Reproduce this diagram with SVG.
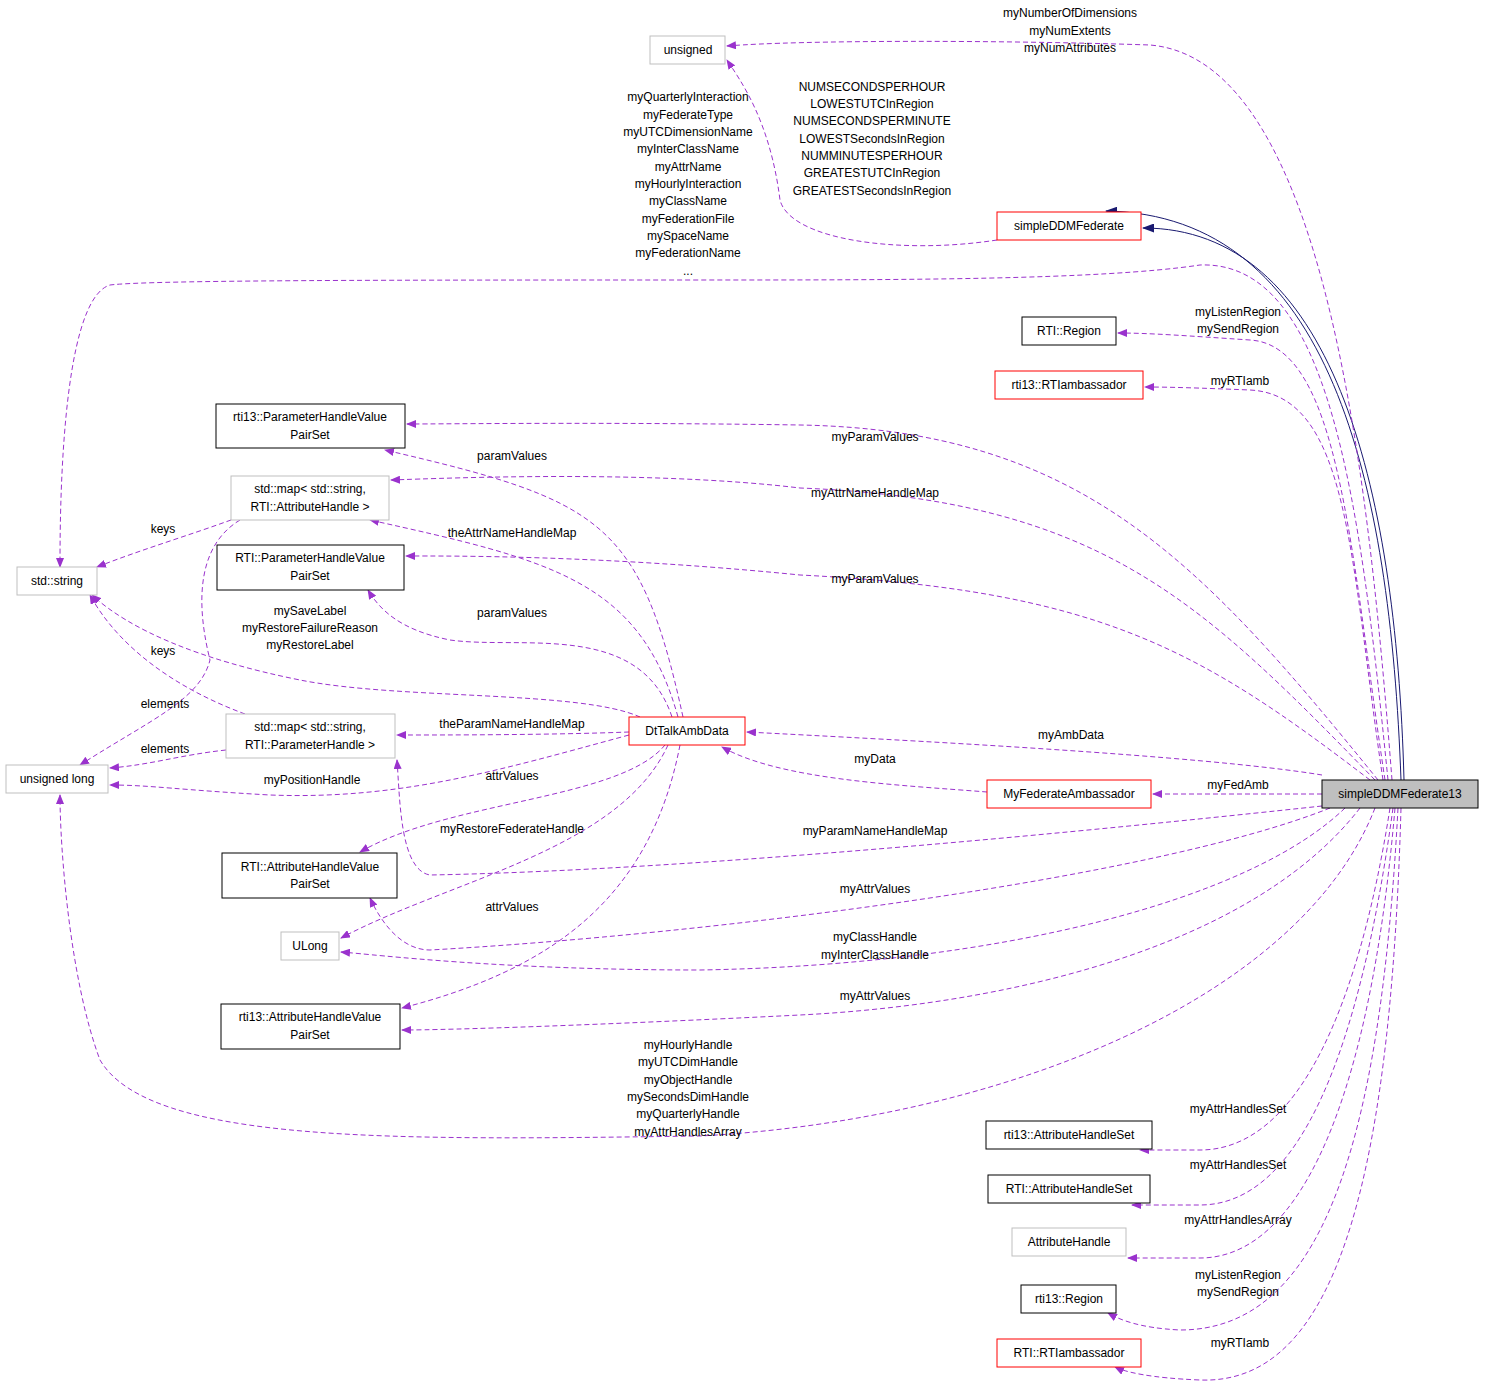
<svg xmlns="http://www.w3.org/2000/svg" width="1485" height="1387" viewBox="0 0 1485 1387">
<style>
text{font-family:"Liberation Sans",Arial,sans-serif;font-size:12px;fill:#000;text-anchor:middle}
.n rect{fill:#fff;stroke-width:1}
.r rect{stroke:#ff0000}.k rect{stroke:#000}.g rect{stroke:#bfbfbf}
.e path{fill:none;stroke:#9a32cd;stroke-dasharray:5,3}
.i path{fill:none;stroke:#191970}
</style>
<defs>
<marker id="p" markerWidth="10" markerHeight="8" refX="9" refY="4" orient="auto" markerUnits="userSpaceOnUse"><path d="M0,0L10,4L0,8z" fill="#9a32cd"/></marker>
<marker id="b" markerWidth="12" markerHeight="9" refX="11" refY="4.5" orient="auto" markerUnits="userSpaceOnUse"><path d="M0,0L12,4.5L0,9z" fill="#191970"/></marker>
</defs>
<rect width="1485" height="1387" fill="#fff"/>
<g id="connectors">
<g class="i">
<path d="M1401,780 C1390,480 1330,215 1106,211" marker-end="url(#b)"/>
<path d="M1404,780 C1396,480 1330,228 1143,228" marker-end="url(#b)"/>
</g>
<g class="e">
<path d="M1392,780 C1370,500 1330,60 1150,45 C1000,40 800,40 727,46" marker-end="url(#p)"/>
<path d="M997,240 C900,255 790,240 780,200 C770,120 740,80 727,60" marker-end="url(#p)"/>
<path d="M1388,780 C1360,500 1330,260 1200,265 C1100,280 900,280 700,280 C400,280 150,280 110,285 C60,300 60,520 60,567" marker-end="url(#p)"/>
<path d="M1385,780 C1350,550 1340,345 1250,340 C1190,336 1150,333 1118,333" marker-end="url(#p)"/>
<path d="M1383,780 C1350,560 1350,395 1250,390 C1200,388 1170,387 1145,387" marker-end="url(#p)"/>
<path d="M1378,780 C1200,560 1080,430 800,425 C600,422 450,424 407,424" marker-end="url(#p)"/>
<path d="M1375,780 C1200,600 1100,500 800,488 C650,470 450,478 391,480" marker-end="url(#p)"/>
<path d="M1370,780 C1200,650 1100,590 800,575 C600,555 450,556 406,556" marker-end="url(#p)"/>
<path d="M1322,775 C1200,755 900,740 747,732" marker-end="url(#p)"/>
<path d="M1322,794 L1153,794" marker-end="url(#p)"/>
<path d="M987,792 C900,785 780,780 722,747" marker-end="url(#p)"/>
<path d="M1322,806 C1100,830 700,870 430,875 C400,870 400,800 397,760" marker-end="url(#p)"/>
<path d="M1330,808 C1150,880 700,935 430,950 C400,950 380,920 370,898" marker-end="url(#p)"/>
<path d="M1345,808 C1250,900 1000,965 700,970 C500,970 380,955 341,952" marker-end="url(#p)"/>
<path d="M1360,808 C1250,950 1000,1005 800,1015 C600,1025 450,1030 402,1030" marker-end="url(#p)"/>
<path d="M1375,808 C1300,1000 1000,1120 700,1136 C400,1140 150,1145 100,1060 C70,980 60,850 60,795" marker-end="url(#p)"/>
<path d="M1390,808 C1360,1000 1300,1150 1200,1150 L1140,1150" marker-end="url(#p)"/>
<path d="M1393,808 C1360,1050 1300,1205 1200,1205 L1132,1205" marker-end="url(#p)"/>
<path d="M1395,808 C1370,1100 1300,1258 1200,1258 L1128,1258" marker-end="url(#p)"/>
<path d="M1398,808 C1380,1150 1320,1330 1180,1330 C1140,1328 1120,1320 1108,1313" marker-end="url(#p)"/>
<path d="M1401,808 C1390,1200 1330,1385 1200,1380 C1150,1378 1125,1372 1115,1367" marker-end="url(#p)"/>
<path d="M683,717 C640,520 600,500 385,450" marker-end="url(#p)"/>
<path d="M678,717 C640,580 550,560 370,520" marker-end="url(#p)"/>
<path d="M672,717 C640,620 520,650 450,640 C400,630 380,610 368,590" marker-end="url(#p)"/>
<path d="M640,717 C580,690 400,700 300,680 C200,660 130,630 92,595" marker-end="url(#p)"/>
<path d="M629,732 C550,735 450,735 397,735" marker-end="url(#p)"/>
<path d="M629,735 C500,770 400,800 270,795 C180,790 150,785 110,785" marker-end="url(#p)"/>
<path d="M665,745 C620,800 450,800 360,852" marker-end="url(#p)"/>
<path d="M668,745 C620,850 450,880 341,938" marker-end="url(#p)"/>
<path d="M680,745 C650,900 550,970 402,1008" marker-end="url(#p)"/>
<path d="M231,520 C190,535 140,550 97,567" marker-end="url(#p)"/>
<path d="M240,520 C190,550 200,620 210,660 C200,700 150,720 80,765" marker-end="url(#p)"/>
<path d="M245,714 C180,690 120,650 90,595" marker-end="url(#p)"/>
<path d="M226,750 C180,755 150,765 110,768" marker-end="url(#p)"/>
</g>
</g>
<g id="labels">
<text x="1070" y="17">myNumberOfDimensions</text><text x="1070" y="35">myNumExtents</text><text x="1070" y="52">myNumAttributes</text>
<text x="872" y="91">NUMSECONDSPERHOUR</text><text x="872" y="108">LOWESTUTCInRegion</text><text x="872" y="125">NUMSECONDSPERMINUTE</text><text x="872" y="143">LOWESTSecondsInRegion</text><text x="872" y="160">NUMMINUTESPERHOUR</text><text x="872" y="177">GREATESTUTCInRegion</text><text x="872" y="195">GREATESTSecondsInRegion</text>
<text x="688" y="101">myQuarterlyInteraction</text><text x="688" y="119">myFederateType</text><text x="688" y="136">myUTCDimensionName</text><text x="688" y="153">myInterClassName</text><text x="688" y="171">myAttrName</text><text x="688" y="188">myHourlyInteraction</text><text x="688" y="205">myClassName</text><text x="688" y="223">myFederationFile</text><text x="688" y="240">mySpaceName</text><text x="688" y="257">myFederationName</text><text x="688" y="275">...</text>
<text x="1238" y="316">myListenRegion</text><text x="1238" y="333">mySendRegion</text>
<text x="1240" y="385">myRTIamb</text>
<text x="875" y="441">myParamValues</text><text x="875" y="497">myAttrNameHandleMap</text><text x="875" y="583">myParamValues</text>
<text x="1071" y="739">myAmbData</text><text x="1238" y="789">myFedAmb</text><text x="875" y="763">myData</text>
<text x="875" y="835">myParamNameHandleMap</text><text x="875" y="893">myAttrValues</text>
<text x="875" y="941">myClassHandle</text><text x="875" y="959">myInterClassHandle</text><text x="875" y="1000">myAttrValues</text>
<text x="688" y="1049">myHourlyHandle</text><text x="688" y="1066">myUTCDimHandle</text><text x="688" y="1084">myObjectHandle</text><text x="688" y="1101">mySecondsDimHandle</text><text x="688" y="1118">myQuarterlyHandle</text><text x="688" y="1136">myAttrHandlesArray</text>
<text x="1238" y="1113">myAttrHandlesSet</text><text x="1238" y="1169">myAttrHandlesSet</text><text x="1238" y="1224">myAttrHandlesArray</text>
<text x="1238" y="1279">myListenRegion</text><text x="1238" y="1296">mySendRegion</text><text x="1240" y="1347">myRTIamb</text>
<text x="512" y="460">paramValues</text><text x="512" y="537">theAttrNameHandleMap</text><text x="512" y="617">paramValues</text>
<text x="310" y="615">mySaveLabel</text><text x="310" y="632">myRestoreFailureReason</text><text x="310" y="649">myRestoreLabel</text>
<text x="512" y="728">theParamNameHandleMap</text><text x="312" y="784">myPositionHandle</text><text x="512" y="780">attrValues</text>
<text x="512" y="833">myRestoreFederateHandle</text><text x="512" y="911">attrValues</text>
<text x="163" y="533">keys</text><text x="165" y="708">elements</text><text x="163" y="655">keys</text><text x="165" y="753">elements</text>
</g>
<g id="n_unsigned" class="n g"><rect x="650" y="36" width="75" height="28"/><text x="688" y="54">unsigned</text></g>
<g id="n_sddm" class="n r"><rect x="997" y="212" width="144" height="28"/><text x="1069" y="230">simpleDDMFederate</text></g>
<g id="n_rtiregion" class="n k"><rect x="1022" y="317" width="94" height="28"/><text x="1069" y="335">RTI::Region</text></g>
<g id="n_rti13amb" class="n r"><rect x="995" y="371" width="148" height="28"/><text x="1069" y="389">rti13::RTIambassador</text></g>
<g id="n_r13phv" class="n k"><rect x="216" y="404" width="189" height="44"/><text x="310" y="421">rti13::ParameterHandleValue</text><text x="310" y="439">PairSet</text></g>
<g id="n_mapattr" class="n g"><rect x="231" y="476" width="158" height="44"/><text x="310" y="493">std::map&lt; std::string,</text><text x="310" y="511">RTI::AttributeHandle &gt;</text></g>
<g id="n_rtiphv" class="n k"><rect x="217" y="545" width="187" height="45"/><text x="310" y="562">RTI::ParameterHandleValue</text><text x="310" y="580">PairSet</text></g>
<g id="n_string" class="n g"><rect x="17" y="567" width="80" height="28"/><text x="57" y="585">std::string</text></g>
<g id="n_dttalk" class="n r"><rect x="629" y="717" width="116" height="28"/><text x="687" y="735">DtTalkAmbData</text></g>
<g id="n_mapparam" class="n g"><rect x="226" y="714" width="169" height="44"/><text x="310" y="731">std::map&lt; std::string,</text><text x="310" y="749">RTI::ParameterHandle &gt;</text></g>
<g id="n_ulong" class="n g"><rect x="6" y="765" width="102" height="28"/><text x="57" y="783">unsigned long</text></g>
<g id="n_myfedamb" class="n r"><rect x="987" y="780" width="164" height="28"/><text x="1069" y="798">MyFederateAmbassador</text></g>
<g id="n_s13" class="n"><rect x="1322" y="780" width="156" height="28" fill="#bfbfbf" stroke="#000" style="fill:#bfbfbf"/><text x="1400" y="798">simpleDDMFederate13</text></g>
<g id="n_rtiahv" class="n k"><rect x="222" y="853" width="175" height="45"/><text x="310" y="871">RTI::AttributeHandleValue</text><text x="310" y="888">PairSet</text></g>
<g id="n_ULong" class="n g"><rect x="281" y="932" width="58" height="28"/><text x="310" y="950">ULong</text></g>
<g id="n_r13ahv" class="n k"><rect x="221" y="1004" width="179" height="45"/><text x="310" y="1021">rti13::AttributeHandleValue</text><text x="310" y="1039">PairSet</text></g>
<g id="n_r13ahs" class="n k"><rect x="986" y="1121" width="166" height="28"/><text x="1069" y="1139">rti13::AttributeHandleSet</text></g>
<g id="n_rtiahs" class="n k"><rect x="988" y="1175" width="162" height="28"/><text x="1069" y="1193">RTI::AttributeHandleSet</text></g>
<g id="n_ah" class="n g"><rect x="1012" y="1228" width="114" height="28"/><text x="1069" y="1246">AttributeHandle</text></g>
<g id="n_r13region" class="n k"><rect x="1021" y="1285" width="95" height="28"/><text x="1069" y="1303">rti13::Region</text></g>
<g id="n_rtiamb" class="n r"><rect x="997" y="1339" width="144" height="28"/><text x="1069" y="1357">RTI::RTIambassador</text></g>
</svg>
